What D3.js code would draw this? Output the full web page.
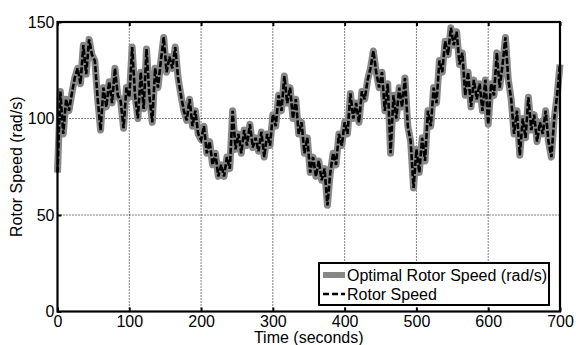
<!DOCTYPE html>
<html>
<head>
<meta charset="utf-8">
<script src="https://cdn.jsdelivr.net/npm/d3@7"></script>
<style>
  body { margin: 0; background: #fff; }
  text { font-family: "Liberation Sans", Arial, sans-serif; }
</style>
</head>
<body>
<svg id="chart" width="576" height="345"></svg>
<script>
// sample spacing of the series, seconds
const timeStep = 4;

// optimal rotor speed (rad/s), one value every 4 s from 0 to 700
const optimalSpeed = [
  72, 114, 92, 110, 104, 113, 121, 126, 118, 138,
  123, 141, 133, 130, 110, 94, 116, 106, 119, 108,
  126, 112, 109, 95, 116, 111, 137, 112, 100, 124,
  105, 136, 112, 98, 126, 116, 130, 142, 124, 132,
  126, 137, 121, 112, 104, 99, 110, 96, 104, 92,
  89, 96, 82, 88, 76, 82, 70, 76, 70, 80,
  74, 104, 84, 92, 82, 94, 86, 97, 85, 90,
  83, 93, 80, 92, 86, 102, 96, 112, 104, 122,
  108, 116, 100, 110, 92, 98, 82, 90, 72, 80,
  70, 78, 68, 74, 55, 72, 82, 76, 92, 86,
  98, 92, 113, 100, 108, 98, 114, 110, 120, 126,
  135, 124, 116, 124, 104, 118, 82, 112, 100, 116,
  106, 121, 96, 88, 64, 84, 72, 90, 78, 104,
  96, 116, 108, 130, 124, 140, 133, 147, 138, 145,
  128, 134, 112, 124, 106, 120, 110, 118, 104, 120,
  97, 118, 112, 134, 116, 128, 142, 120, 110, 92,
  104, 81, 100, 90, 111, 94, 102, 88, 98, 92,
  104, 88, 80, 100, 112, 128
];
// measured rotor speed tracks the optimum almost exactly
const rotorSpeed = optimalSpeed.slice();

const xTicks = [0, 100, 200, 300, 400, 500, 600, 700];
const yTicks = [0, 50, 100, 150];
const legendLabels = ['Optimal Rotor Speed (rad/s)', 'Rotor Speed'];

const svg = d3.select('#chart');
const margin = {left: 57.5, right: 16, top: 22, bottom: 33.5};
const W = 576, H = 345;
const fs = 16;

const x = d3.scaleLinear().domain([0, 700]).range([margin.left, W - margin.right]);
const y = d3.scaleLinear().domain([0, 150]).range([H - margin.bottom, margin.top]);

// grid
const grid = svg.append('g');
grid.selectAll('.gx').data(xTicks.slice(1, -1)).enter().append('line')
  .attr('x1', d => x(d)).attr('x2', d => x(d))
  .attr('y1', y(0)).attr('y2', y(150))
  .attr('stroke', '#000').attr('stroke-width', 1).attr('stroke-dasharray', '1,2');
grid.selectAll('.gy').data(yTicks.slice(1, -1)).enter().append('line')
  .attr('x1', x(0)).attr('x2', x(700))
  .attr('y1', d => y(d)).attr('y2', d => y(d))
  .attr('stroke', '#000').attr('stroke-width', 1).attr('stroke-dasharray', '1,2');

const line = d3.line()
  .x((d, i) => x(i * timeStep))
  .y(d => y(d));

svg.append('path').datum(optimalSpeed)
  .attr('d', line).attr('fill', 'none')
  .attr('stroke', '#888').attr('stroke-width', 7).attr('stroke-linejoin', 'round');

svg.append('path').datum(rotorSpeed)
  .attr('d', line).attr('fill', 'none')
  .attr('stroke', '#000').attr('stroke-width', 2.6).attr('stroke-dasharray', '6,2');

// axes (inward ticks, MATLAB style)
const xAxis = svg.append('g').attr('transform', `translate(0,${y(0)})`)
  .call(d3.axisBottom(x).tickValues(xTicks).tickSize(-4).tickPadding(4));
const yAxis = svg.append('g').attr('transform', `translate(${x(0)},0)`)
  .call(d3.axisLeft(y).tickValues(yTicks).tickSize(-4).tickPadding(3));
[xAxis, yAxis].forEach(a => {
  a.select('.domain').remove();
  a.selectAll('line').attr('stroke', '#000').attr('stroke-width', 2);
  a.selectAll('text').attr('font-size', fs).attr('fill', '#000')
    .attr('font-family', '"Liberation Sans", Arial, sans-serif');
});
svg.append('g').attr('transform', `translate(0,${y(150)})`)
  .call(d3.axisTop(x).tickValues(xTicks).tickSize(-4).tickFormat(''))
  .call(g => g.select('.domain').remove())
  .selectAll('line').attr('stroke', '#000').attr('stroke-width', 2);

// frame
svg.append('rect')
  .attr('x', x(0)).attr('y', y(150))
  .attr('width', x(700) - x(0)).attr('height', y(0) - y(150))
  .attr('fill', 'none').attr('stroke', '#000').attr('stroke-width', 2.2);

// axis titles
svg.append('text').attr('x', (x(0) + x(700)) / 2).attr('y', 343)
  .attr('text-anchor', 'middle').attr('font-size', fs).text('Time (seconds)');
svg.append('text').attr('transform', `translate(22,${(y(0) + y(150)) / 2}) rotate(-90)`)
  .attr('text-anchor', 'middle').attr('font-size', fs).text('Rotor Speed (rad/s)');

// legend
const lg = svg.append('g');
lg.append('rect').attr('x', 319).attr('y', 263).attr('width', 230).attr('height', 42)
  .attr('fill', '#fff').attr('stroke', '#000').attr('stroke-width', 2);
lg.append('line').attr('x1', 323).attr('x2', 345).attr('y1', 275).attr('y2', 275)
  .attr('stroke', '#888').attr('stroke-width', 6);
lg.append('line').attr('x1', 323).attr('x2', 345).attr('y1', 294).attr('y2', 294)
  .attr('stroke', '#000').attr('stroke-width', 2.6).attr('stroke-dasharray', '6,3');
lg.selectAll('.lt').data(legendLabels).enter().append('text')
  .attr('x', 347).attr('y', (d, i) => 280.5 + i * 19)
  .attr('font-size', fs).text(d => d);
</script>
</body>
</html>
